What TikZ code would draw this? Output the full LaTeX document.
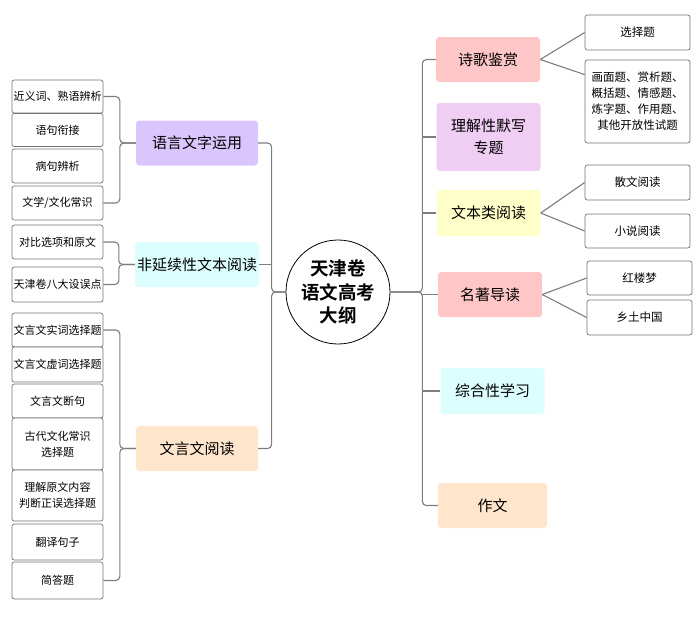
\documentclass[tikz,border=0pt]{standalone}
\usepackage{fontspec}
\newfontfamily\cjk{Noto Sans CJK SC}[BoldFont={Noto Sans CJK SC Bold}]
\usepackage{tikz}
\usetikzlibrary{positioning}
\definecolor{LinkGray}{RGB}{125,125,125}
\definecolor{BoxGray}{RGB}{115,115,115}
\definecolor{LangPurple}{RGB}{218,198,252}
\definecolor{TextCyan}{RGB}{220,254,254}
\definecolor{ClassicPeach}{RGB}{255,229,204}
\definecolor{PoemPink}{RGB}{255,198,200}
\definecolor{RecitePurple}{RGB}{240,205,243}
\definecolor{ReadYellow}{RGB}{255,255,202}
\tikzset{
  leafbox/.style={
    draw=BoxGray,
    fill=white,
    rounded corners=0.8mm,
    line width=0.7pt,
    minimum width=91,
    minimum height=34,
    inner sep=1pt,
    align=center,
    font=\cjk\fontsize{11}{16}\selectfont
  },
  rightleaf/.style={leafbox,minimum width=105,font=\cjk\fontsize{11.5}{16}\selectfont},
  topicbox/.style={
    fill=#1,
    rounded corners=1.2mm,
    minimum width=122,
    minimum height=45,
    inner sep=2pt,
    align=center,
    font=\cjk\fontsize{15}{22}\selectfont
  },
  righttopic/.style={topicbox=#1,minimum width=104},
  rootnode/.style={
    circle,
    draw=black,
    line width=0.8pt,
    fill=white,
    minimum size=104,
    inner sep=0pt,
    align=center,
    font=\cjk\bfseries\fontsize{18.5}{23.5}\selectfont
  },
  link/.style={draw=LinkGray,line width=1.1pt,rounded corners=4pt}
}

\begin{document}
\begin{tikzpicture}[x=1pt,y=-1pt]
  \useasboundingbox (0,0) rectangle (700,625);

  \node[rootnode] (root) at (338,292) {天津卷\\语文高考\\大纲};

  \node[topicbox=LangPurple] (yuyan) at (197,143) {语言文字运用};
  \node[topicbox=TextCyan] (feiyan) at (197,264.5) {非延续性文本阅读};
  \node[topicbox=ClassicPeach] (wenyan) at (197,448.5) {文言文阅读};

  \node[leafbox,minimum height=33] (jinyi) at (57.5,96.5) {近义词、熟语辨析};
  \node[leafbox,minimum height=33] (yuju) at (57.5,130) {语句衔接};
  \node[leafbox] (bingju) at (57.5,166) {病句辨析};
  \node[leafbox] (wenxue) at (57.5,203) {文学/文化常识};
  \node[leafbox] (duibi) at (57.5,242) {对比选项和原文};
  \node[leafbox,minimum height=35] (sheWu) at (57.5,284.5) {天津卷八大设误点};
  \node[leafbox] (shici) at (57.5,330) {文言文实词选择题};
  \node[leafbox,minimum height=35] (xuci) at (57.5,364.5) {文言文虚词选择题};
  \node[leafbox] (duanju) at (57.5,401) {文言文断句};
  \node[leafbox,minimum height=52] (guwen) at (57.5,444) {古代文化常识\\选择题};
  \node[leafbox,minimum height=51] (yuanwen) at (57.5,495.5) {理解原文内容\\判断正误选择题};
  \node[leafbox,minimum height=36] (fanyi) at (57.5,542) {翻译句子};
  \node[leafbox,minimum height=37] (jianda) at (57.5,580.5) {简答题};

  \node[righttopic=PoemPink] (shige) at (488,59.5) {诗歌鉴赏};
  \node[righttopic=RecitePurple,minimum height=68] (moxie) at (488.5,137) {理解性默写\\专题};
  \node[righttopic=ReadYellow,minimum height=46] (wenben) at (488.5,213) {文本类阅读};
  \node[righttopic=PoemPink] (mingzhu) at (490,294.5) {名著导读};
  \node[righttopic=TextCyan,minimum height=46] (zonghe) at (492.5,391) {综合性学习};
  \node[righttopic=ClassicPeach,minimum width=109] (zuowen) at (492.5,505.5) {作文};

  \node[rightleaf,minimum height=35] (xuanze) at (637.5,32.5) {选择题};
  \node[rightleaf,minimum height=83] (huamian) at (637.5,101.5) {画面题、赏析题、\\概括题、情感题、\\炼字题、作用题、\\其他开放性试题};
  \node[rightleaf,minimum height=35] (sanwen) at (637.5,182.5) {散文阅读};
  \node[rightleaf] (xiaoshuo) at (637.5,231) {小说阅读};
  \node[rightleaf] (honglou) at (639.5,278) {红楼梦};
  \node[rightleaf,minimum height=35] (xiangtu) at (639.5,317.5) {乡土中国};

  \coordinate (ltrunk) at ([xshift=-14pt]root.west);
  \coordinate (rtrunk) at ([xshift=32pt]root.east);

  \draw[link] (root.west) -- (ltrunk) |- (yuyan.east);
  \draw[link] (root.west) -- (ltrunk) |- (wenyan.east);
  \draw[link] (feiyan.east) -- (feiyan.east -| ltrunk);

  \draw[link] (yuyan.west) -- ++(-16,0) |- (jinyi.east);
  \draw[link] (yuyan.west) -- ++(-16,0) |- (wenxue.east);
  \draw[link] (feiyan.west) -- ++(-16,0) |- (duibi.east);
  \draw[link] (feiyan.west) -- ++(-16,0) |- (sheWu.east);
  \draw[link] (wenyan.west) -- ++(-16,0) |- (shici.east);
  \draw[link] (wenyan.west) -- ++(-16,0) |- (jianda.east);

  \draw[link] (root.east) -- (rtrunk) |- (shige.west);
  \draw[link] (root.east) -- (rtrunk) |- (zuowen.west);
  \draw[link] (rtrunk |- moxie.west) -- (moxie.west);
  \draw[link] (rtrunk |- wenben.west) -- (wenben.west);
  \draw[link] (rtrunk |- mingzhu.west) -- (mingzhu.west);
  \draw[link] (rtrunk |- zonghe.west) -- (zonghe.west);

  \draw[link] (shige.east) -- (xuanze.west);
  \draw[link] (shige.east) -- (huamian.153);
  \draw[link] (wenben.east) -- (sanwen.west);
  \draw[link] (wenben.east) -- (xiaoshuo.west);
  \draw[link] (mingzhu.east) -- (honglou.west);
  \draw[link] (mingzhu.east) -- (xiangtu.west);
\end{tikzpicture}
\end{document}
